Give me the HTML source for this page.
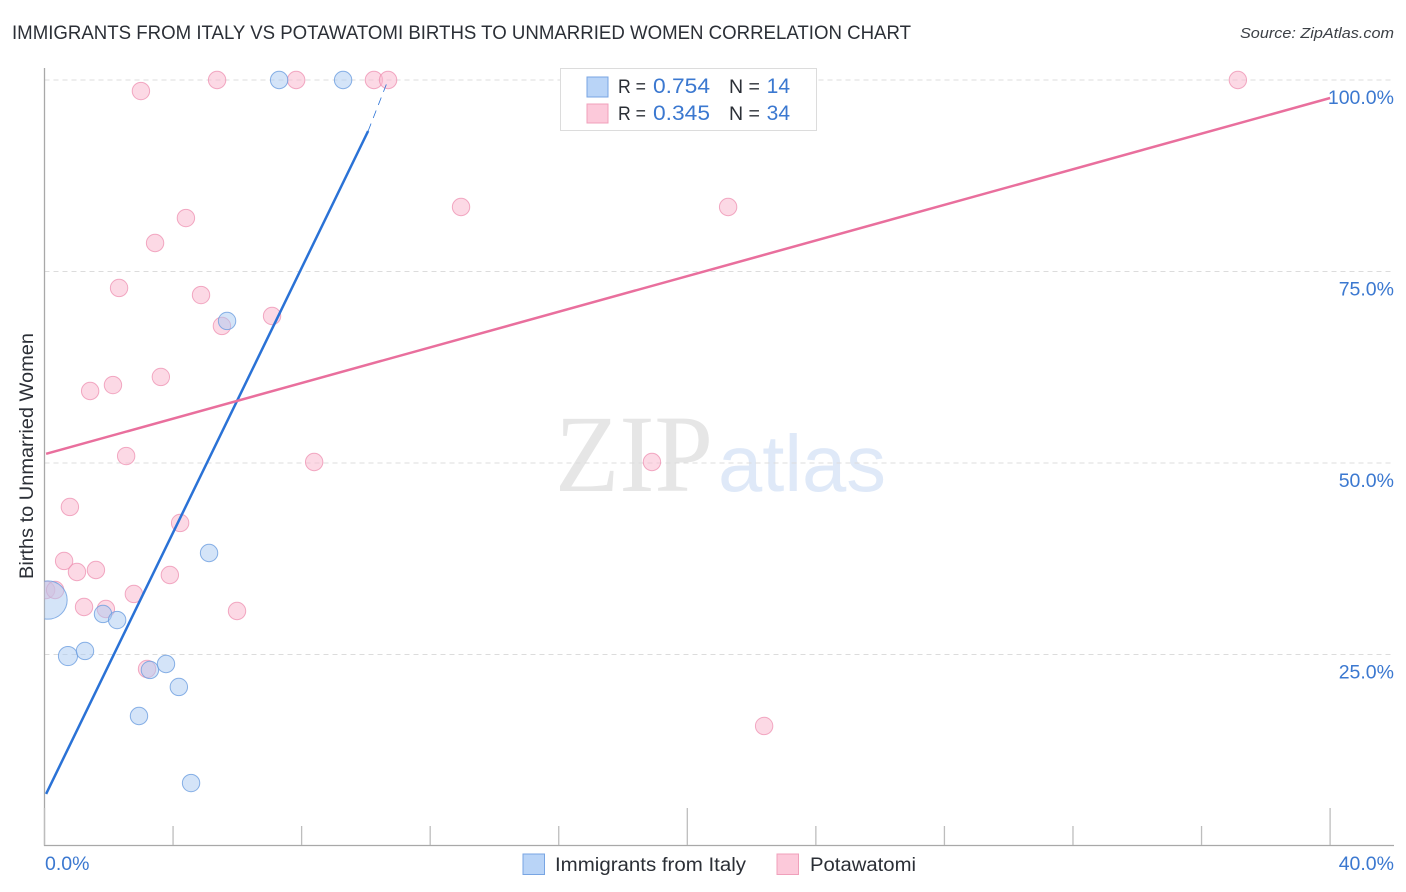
<!DOCTYPE html>
<html>
<head>
<meta charset="utf-8">
<title>Immigrants from Italy vs Potawatomi Births to Unmarried Women Correlation Chart</title>
<style>
html,body{margin:0;padding:0;background:#fff;}
svg{display:block;font-family:"Liberation Sans",sans-serif;}
</style>
</head>
<body>
<svg id="chart" width="1406" height="892" viewBox="0 0 1406 892" xmlns="http://www.w3.org/2000/svg">
  <text x="12" y="39" font-size="19" fill="#2b2f36" textLength="899" lengthAdjust="spacingAndGlyphs">IMMIGRANTS FROM ITALY VS POTAWATOMI BIRTHS TO UNMARRIED WOMEN CORRELATION CHART</text>
  <text x="1394" y="38" font-size="15" font-style="italic" fill="#3c4046" text-anchor="end" textLength="154" lengthAdjust="spacingAndGlyphs">Source: ZipAtlas.com</text>

  <g>
    <text x="555" y="491" font-family="'Liberation Serif',serif" font-size="110" fill="#e6e6e6" textLength="158" lengthAdjust="spacingAndGlyphs">ZIP</text>
    <text x="718" y="491" font-family="'Liberation Sans',sans-serif" font-size="80" fill="#dfe9f8" textLength="168" lengthAdjust="spacingAndGlyphs">atlas</text>
  </g>

  <g id="grid"></g>
  <g id="axes"></g>
  <g id="marks"></g>
  <g id="lines"></g>
  <g id="labels"></g>

  <text transform="translate(33,456) rotate(-90)" font-size="19" fill="#2b2f36" text-anchor="middle" textLength="246" lengthAdjust="spacingAndGlyphs">Births to Unmarried Women</text>

  <g>
    <rect x="560.5" y="68.5" width="256" height="62" fill="#fff" stroke="#dcdcdc" stroke-width="1"/>
    <rect x="587" y="77" width="21" height="20" fill="#b9d4f7" stroke="#78a5e3" stroke-width="1"/>
    <rect x="587" y="104" width="21" height="19" fill="#fcc9da" stroke="#f0a0bb" stroke-width="1"/>
    <text x="618" y="93" font-size="19" fill="#2b2f36" textLength="28" lengthAdjust="spacingAndGlyphs">R =</text>
    <text x="653" y="93" font-size="21" fill="#3b78d0" textLength="57" lengthAdjust="spacingAndGlyphs">0.754</text>
    <text x="729" y="93" font-size="19" fill="#2b2f36" textLength="31" lengthAdjust="spacingAndGlyphs">N =</text>
    <text x="790" y="93" font-size="21" fill="#3b78d0" text-anchor="end">14</text>
    <text x="618" y="120" font-size="19" fill="#2b2f36" textLength="28" lengthAdjust="spacingAndGlyphs">R =</text>
    <text x="653" y="120" font-size="21" fill="#3b78d0" textLength="57" lengthAdjust="spacingAndGlyphs">0.345</text>
    <text x="729" y="120" font-size="19" fill="#2b2f36" textLength="31" lengthAdjust="spacingAndGlyphs">N =</text>
    <text x="790" y="120" font-size="21" fill="#3b78d0" text-anchor="end">34</text>
  </g>

  <g>
    <rect x="523" y="854" width="21.5" height="20.5" fill="#b9d4f7" stroke="#78a5e3" stroke-width="1"/>
    <text x="555" y="871" font-size="19" fill="#2b2f36" textLength="191" lengthAdjust="spacingAndGlyphs">Immigrants from Italy</text>
    <rect x="777" y="854" width="21.5" height="20.5" fill="#fcc9da" stroke="#f0a0bb" stroke-width="1"/>
    <text x="810" y="871" font-size="19" fill="#2b2f36" textLength="106" lengthAdjust="spacingAndGlyphs">Potawatomi</text>
  </g>
</svg>
<script>
var xTickValues = [0,4,8,12,16,20,24,28,32,36,40];
var xMajorTicks = [0,20,40];
var xEndLabels = [0,40];
var yTickValues = [25,50,75,100];

var italyX = [7.30,9.29,5.68,5.12,1.82,2.26,0.73,1.26,3.28,3.78,4.18,2.94,4.56,0.11];
var italyY = [100,100,68.54,38.25,30.29,29.50,24.80,25.46,22.98,23.76,20.76,16.97,8.22,32.11];
var italySize = [1,1,1,1,1,1,1.1,1,1,1,1,1,1,2.2];

var potawatomiX = [3.00,5.37,7.83,10.25,10.69,37.13,4.40,3.44,12.96,21.27,2.32,4.87,7.08,5.52,3.62,2.13,1.42,2.54,8.39,18.90,0.79,4.22,0.61,1.01,1.60,3.90,2.78,0.05,0.33,1.23,1.91,5.99,3.19,22.39];
var potawatomiY = [98.56,100,100,100,100,100,81.98,78.72,83.42,83.42,72.85,71.93,69.19,67.89,61.23,60.18,59.40,50.91,50.13,50.13,44.26,42.17,37.21,35.77,36.03,35.38,32.90,33.42,33.42,31.20,30.94,30.68,23.11,15.67];

var italyTrendX = [0.05,10.07];
var italyTrendY = [6.8,93.34];
var italyTrendDashX = [10.07,10.69];
var italyTrendDashY = [93.34,98.7];
var potawatomiTrendX = [0.05,40];
var potawatomiTrendY = [51.2,97.65];

var NS = 'http://www.w3.org/2000/svg';
function xScale(v){ return 44.5 + v * 32.14; }
function yScale(v){ return 80 + (100 - v) * 7.66; }
function make(tag, attrs, parent){
  var el = document.createElementNS(NS, tag);
  for (var k in attrs) el.setAttribute(k, attrs[k]);
  parent.appendChild(el);
  return el;
}
var gridG = document.getElementById('grid');
var axesG = document.getElementById('axes');
var marksG = document.getElementById('marks');
var linesG = document.getElementById('lines');
var labelsG = document.getElementById('labels');

yTickValues.forEach(function(v){
  var y = yScale(v);
  var line = make('line', {x1:44.5, x2:1394, y1:y, y2:y, stroke:'#dcdcdc', 'stroke-width':1, 'stroke-dasharray':'5 4'}, gridG);
  
  
  var label = make('text', {x:1394, y:y + 24, 'font-size':19.5, fill:'#3b78d0', 'text-anchor':'end'}, labelsG);
  label.textContent = v.toFixed(1) + '%';
  
  
});

var yAxis = make('line', {x1:44.5, x2:44.5, y1:68, y2:846, stroke:'#a8a8a8', 'stroke-width':1.3}, axesG);


var xAxis = make('line', {x1:44, x2:1394, y1:845.5, y2:845.5, stroke:'#a8a8a8', 'stroke-width':1.3}, axesG);



xTickValues.forEach(function(v){
  var x = xScale(v);
  var top = xMajorTicks.indexOf(v) >= 0 ? 808 : 826;
  var tick = make('line', {x1:x, x2:x, y1:top, y2:845, stroke:'#bdbdbd', 'stroke-width':1.3}, axesG);
  
  
});

xEndLabels.forEach(function(v, i){
  var label = make('text', {x: i === 0 ? 45 : 1394, y:870, 'font-size':19.5, fill:'#3b78d0', 'text-anchor': i === 0 ? 'start' : 'end'}, labelsG);
  label.textContent = v.toFixed(1) + '%';
  
  
});

var clip = make('clipPath', {id:'plot-clip'}, document.getElementById('chart'));
make('rect', {x:44.5, y:60, width:1360, height:790}, clip);
marksG.setAttribute('clip-path', 'url(#plot-clip)');

potawatomiX.forEach(function(v, i){
  var dot = make('circle', {cx:xScale(v), cy:yScale(potawatomiY[i]), r:8.7, fill:'#f9b9cf', 'fill-opacity':0.55, stroke:'#ee8fb0', 'stroke-opacity':0.75, 'stroke-width':1}, marksG);
  
  
});
italyX.forEach(function(v, i){
  var dot = make('circle', {cx:xScale(v), cy:yScale(italyY[i]), r:8.7 * italySize[i], fill:'#a9c9f2', 'fill-opacity':0.5, stroke:'#6b9de0', 'stroke-opacity':0.8, 'stroke-width':1}, marksG);
  
  
});

var italyLine = make('line', {x1:xScale(italyTrendX[0]), y1:yScale(italyTrendY[0]), x2:xScale(italyTrendX[1]), y2:yScale(italyTrendY[1]), stroke:'#2a72d6', 'stroke-width':2.5}, linesG);


var italyDash = make('line', {x1:xScale(italyTrendDashX[0]), y1:yScale(italyTrendDashY[0]), x2:xScale(italyTrendDashX[1]), y2:yScale(italyTrendDashY[1]) - 10, stroke:'#2a72d6', 'stroke-width':0.8, 'stroke-dasharray':'8 6'}, linesG);


var potawatomiLine = make('line', {x1:xScale(potawatomiTrendX[0]), y1:yScale(potawatomiTrendY[0]), x2:xScale(potawatomiTrendX[1]), y2:yScale(potawatomiTrendY[1]), stroke:'#e96f9d', 'stroke-width':2.5}, linesG);


</script>
</body>
</html>
